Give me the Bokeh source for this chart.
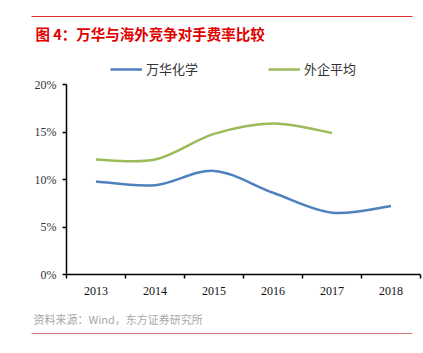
from bokeh.plotting import figure
from bokeh.models import (FixedTicker, NumeralTickFormatter, Legend, LegendItem, Range1d,
                          LinearAxis)
from bokeh.core.properties import value
from bokeh.embed import file_html
from bokeh.resources import INLINE
import numpy as np

years = [2013, 2014, 2015, 2016, 2017, 2018]
wanhua = [0.098, 0.094, 0.109, 0.086, 0.065, 0.072]
foreign_years = [2013, 2014, 2015, 2016, 2017]
foreign = [0.121, 0.121, 0.148, 0.159, 0.149]
y_ticks = [0, 0.05, 0.10, 0.15, 0.20]

title_text = "图 4：万华与海外竞争对手费率比较"
source_text = "资料来源：Wind，东方证券研究所"
series_names = ["万华化学", "外企平均"]
BLUE = "#4F81BD"
GREEN = "#9BBB59"
CJK = "Noto Sans CJK SC"

# canvas and plot-area geometry (pixels)
W, H = 423, 353
PL, PR, PT, PB = 66, 420, 84, 274
X0, X1 = 2012.5, 2018.5
Y0, Y1 = 0.0, 0.20
xs = (X1 - X0) / (PR - PL)
ys = (Y1 - Y0) / (PB - PT)

p = figure(width=W, height=H, output_backend="svg", toolbar_location=None,
           x_range=Range1d(X0 - PL * xs, X1 + (W - PR) * xs),
           y_range=Range1d(Y0 - (H - PB) * ys, Y1 + PT * ys),
           x_axis_type=None, y_axis_type=None,
           min_border=0, min_border_left=0, min_border_right=0,
           min_border_top=0, min_border_bottom=0)
p.extra_x_ranges = {"px": Range1d(0, W)}
p.extra_y_ranges = {"px": Range1d(H, 0)}
p.outline_line_color = None
p.grid.visible = False

xa = LinearAxis(fixed_location=0.0, bounds=(X0, X1))
xa.ticker = FixedTicker(ticks=years, minor_ticks=[y - 0.5 for y in years] + [X1])
xa.major_tick_out = 0
xa.major_tick_in = 0
xa.minor_tick_out = 4
xa.minor_tick_in = 0
xa.minor_tick_line_color = "black"
xa.minor_tick_line_width = 1.5
xa.axis_line_color = "black"
xa.axis_line_width = 1.5
xa.major_label_text_font = "Liberation Serif"
xa.major_label_text_font_size = "12px"
xa.major_label_text_color = "#111111"
xa.major_label_standoff = 8
p.add_layout(xa, "below")

ya = LinearAxis(fixed_location=X0, bounds=(Y0, Y1))
ya.ticker = FixedTicker(ticks=y_ticks)
ya.formatter = NumeralTickFormatter(format="0%")
ya.major_tick_out = 4
ya.major_tick_in = 0
ya.minor_tick_out = 0
ya.minor_tick_in = 0
ya.axis_line_color = "black"
ya.axis_line_width = 1.5
ya.major_tick_line_width = 1.5
ya.major_label_text_font = "Liberation Serif"
ya.major_label_text_font_size = "12px"
ya.major_label_text_color = "#333333"
ya.major_label_standoff = 6
p.add_layout(ya, "left")


def smooth_segments(xv, yv):
    xv = np.asarray(xv, float)
    yv = np.asarray(yv, float)
    n = len(xv)
    seg = dict(x0=[], y0=[], x1=[], y1=[], cx0=[], cy0=[], cx1=[], cy1=[])
    for i in range(n - 1):
        i0 = max(i - 1, 0)
        i3 = min(i + 2, n - 1)
        seg["x0"].append(xv[i]); seg["y0"].append(yv[i])
        seg["x1"].append(xv[i + 1]); seg["y1"].append(yv[i + 1])
        seg["cx0"].append(xv[i] + (xv[i + 1] - xv[i0]) / 6)
        seg["cy0"].append(yv[i] + (yv[i + 1] - yv[i0]) / 6)
        seg["cx1"].append(xv[i + 1] - (xv[i3] - xv[i]) / 6)
        seg["cy1"].append(yv[i + 1] - (yv[i3] - yv[i]) / 6)
    return seg


r1 = p.bezier(line_color=BLUE, line_width=2.5, **smooth_segments(years, wanhua))
r2 = p.bezier(line_color=GREEN, line_width=2.5, **smooth_segments(foreign_years, foreign))

legend = Legend(items=[LegendItem(label=series_names[0], renderers=[r1]),
                       LegendItem(label=series_names[1], renderers=[r2])],
                orientation="horizontal", location=(110, 275),
                glyph_width=32, glyph_height=14, label_standoff=4, spacing=70,
                padding=0, margin=0, border_line_color=None,
                background_fill_alpha=0,
                label_text_font=CJK, label_text_font_size="13px",
                label_text_color="#333333")
p.add_layout(legend, "center")

# header / footer (pixel coordinates)
p.segment(x0=[31], y0=[16], x1=[412], y1=[16], line_color="#E03030", line_width=1.2,
          x_range_name="px", y_range_name="px")
p.text(x=[35], y=[33], text=[title_text], text_font=value(CJK), text_font_size="14.5px",
       text_font_style="bold", text_color="#E00000", text_baseline="middle",
       x_range_name="px", y_range_name="px")
p.text(x=[33], y=[318], text=[source_text], text_font=value(CJK), text_font_size="11px",
       text_color="#A8A8A8", text_baseline="middle",
       x_range_name="px", y_range_name="px")
p.segment(x0=[31], y0=[333], x1=[412], y1=[333], line_color="#D88080", line_width=1.2,
          x_range_name="px", y_range_name="px")

open("out.html", "w").write(file_html(p, INLINE))
